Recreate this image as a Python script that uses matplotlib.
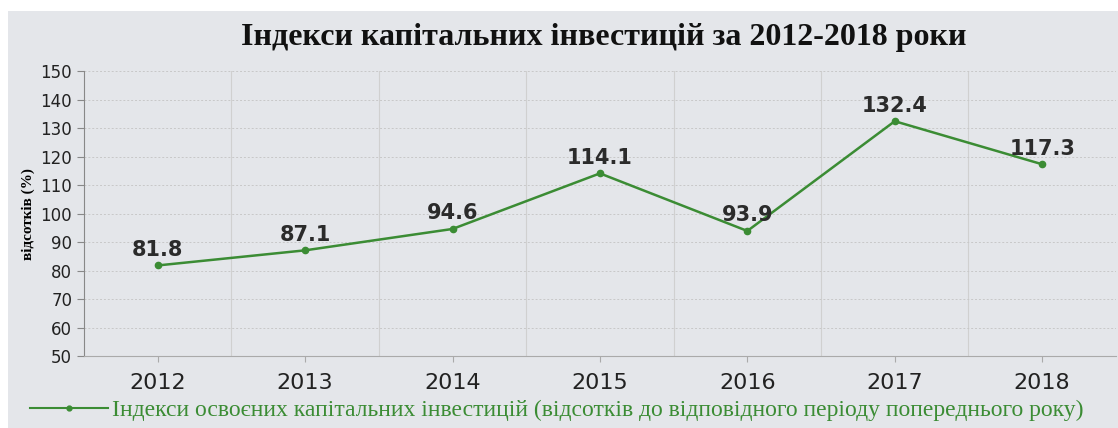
import matplotlib
matplotlib.use("Agg")
import matplotlib.pyplot as plt
from matplotlib.lines import Line2D
from matplotlib.patches import Rectangle

years = ["2012", "2013", "2014", "2015", "2016", "2017", "2018"]
values = [81.8, 87.1, 94.6, 114.1, 93.9, 132.4, 117.3]
yticks = [50, 60, 70, 80, 90, 100, 110, 120, 130, 140, 150]

title = "Індекси капітальних інвестицій за 2012-2018 роки"
ylabel = "відсотків (%)"
legend_label = "Індекси освоєних капітальних інвестицій (відсотків до відповідного періоду попереднього року)"

green = "#3b8c34"

fig = plt.figure(figsize=(11.18, 4.28), dpi=100)
fig.patch.set_facecolor("white")
# grey panel behind the chart
fig.patches.append(Rectangle((0.007, 0.0), 0.993, 0.975, transform=fig.transFigure,
                             facecolor="#e4e6ea", edgecolor="none", zorder=-10))

ax = fig.add_axes([0.0751, 0.168, 0.923, 0.666])
ax.set_facecolor("none")

x = list(range(len(years)))
ax.plot(x, values, color=green, lw=1.8, marker="o", ms=4.5, zorder=3)

for xi, v in zip(x, values):
    ax.text(xi, v + 2.0, f"{v}", ha="center", va="bottom", fontsize=15,
            fontweight="bold", color="#2b2b2b", family="DejaVu Sans")

ax.set_xlim(-0.5, len(years) - 0.5)
ax.set_ylim(50, 150)
ax.set_yticks(yticks)
ax.set_xticks(x)
ax.set_xticklabels(years, fontsize=16, color="#222222")
ax.tick_params(axis="y", labelsize=12, colors="#222222", length=5, color="#888888")
ax.tick_params(axis="x", length=4, color="#aaaaaa", pad=8)

# gridlines: dashed horizontals, verticals between categories
ax.grid(axis="y", color="#c8c8c8", lw=0.7, ls=(0, (2, 2)))
for b in range(len(years) - 1):
    ax.axvline(b + 0.5, color="#d0d0d0", lw=0.8, zorder=0)

for side in ["top", "right"]:
    ax.spines[side].set_visible(False)
ax.spines["left"].set_color("#888888")
ax.spines["bottom"].set_color("#aaaaaa")

ax.set_ylabel(ylabel, family="Liberation Serif", fontweight="bold", fontsize=11, labelpad=4)

fig.text(0.54, 0.912, title, ha="center", va="center", fontsize=23,
         fontweight="bold", family="Liberation Serif", color="#111111")

handle = Line2D([], [], color=green, lw=1.5, marker="o", ms=3.5)
leg = fig.legend([handle], [legend_label], loc="center", bbox_to_anchor=(0.498, 0.042),
                 frameon=False, prop={"family": "Liberation Serif", "size": 17},
                 handlelength=3.3, handletextpad=0.15, borderpad=0.1)
for t in leg.get_texts():
    t.set_color(green)

fig.savefig("out.png", dpi=100, facecolor=fig.get_facecolor())
